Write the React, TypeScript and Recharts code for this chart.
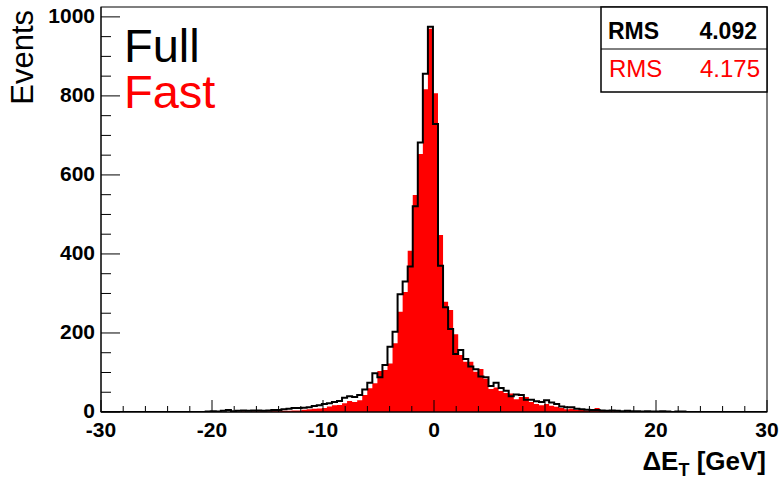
import React from 'react';
import { ComposedChart, Area, Line, XAxis, YAxis } from 'recharts';

// bin layout (GeV): peak bin starts at -0.55, bins ~0.455 wide
const PEAK_LEFT = -0.55;
const BIN_WIDTH = 0.455;
const FIRST_BIN = -44; // bin index of first entry, relative to peak bin

// Full simulation, counts per bin (bins -44 .. +50)
const FULL_COUNTS = [
  1, 2, 1, 3, 5, 2, 3, 4, 3, 4, 4, 3, 4, 5, 5, 7, 8, 10, 10, 11, 12, 15, 17, 20, 22, 25, 28,
  36, 40, 38, 43, 57, 74, 98, 88, 119, 165, 203, 298, 330, 368, 521, 682, 856,
  975,
  729, 370, 265, 210, 147, 157, 134, 115, 108, 90, 88, 66, 74, 61, 54, 40, 44, 43, 31, 31,
  27, 25, 30, 24, 20, 14, 12, 12, 8, 7, 6, 5, 5, 4, 3, 4, 3, 2, 3, 2, 2, 1, 2, 1, 1, 2, 1, 0, 1, 1,
];

// Fast simulation, same bins
const FAST_COUNTS = [
  0, 0, 0, 0, 0, 0, 0, 1, 0, 1, 1, 1, 1, 2, 2, 3, 3, 4, 4, 6, 7, 8, 9, 10, 14, 17, 18,
  22, 28, 25, 30, 43, 60, 73, 104, 106, 123, 174, 254, 304, 408, 549, 653, 817,
  970,
  807, 448, 279, 258, 197, 144, 127, 127, 102, 109, 84, 58, 62, 53, 48, 47, 32, 38, 38, 25,
  20, 17, 20, 16, 13, 10, 7, 8, 6, 5, 4, 7, 10, 3, 2, 2, 1, 1, 1, 1, 0, 1, 0, 0, 0, 0, 0, 0, 0, 0,
];

const X_MAJOR = [-30, -20, -10, 0, 10, 20, 30];
const Y_MAJOR = [0, 200, 400, 600, 800, 1000];
const X_TICKS: number[] = [];
for (let v = -30; v <= 30; v += 2) X_TICKS.push(v);
const Y_TICKS: number[] = [];
for (let v = 0; v <= 1000; v += 50) Y_TICKS.push(v);

const RMS_FULL = '4.092';
const RMS_FAST = '4.175';

const points: { x: number; full: number; fast: number }[] = [{ x: -30, full: 0, fast: 0 }];
FULL_COUNTS.forEach((v, k) => {
  points.push({ x: PEAK_LEFT + (FIRST_BIN + k) * BIN_WIDTH, full: v, fast: FAST_COUNTS[k] });
});
points.push({ x: PEAK_LEFT + (FIRST_BIN + FULL_COUNTS.length) * BIN_WIDTH, full: 0, fast: 0 });
points.push({ x: 30, full: 0, fast: 0 });

const FONT = '"Liberation Sans", Arial, Helvetica, sans-serif';

const XTick = (props: any) => {
  const { x, y, payload } = props;
  const major = X_MAJOR.includes(payload.value);
  return (
    <g>
      <line x1={x} x2={x} y1={y} y2={y - (major ? 12 : 6)} stroke="#000" strokeWidth={1} />
      {major && (
        <text x={x} y={y + 25} textAnchor="middle" fontFamily={FONT} fontWeight="bold" fontSize={21} fill="#000">
          {payload.value}
        </text>
      )}
    </g>
  );
};

const YTick = (props: any) => {
  const { x, y, payload } = props;
  const major = Y_MAJOR.includes(payload.value);
  return (
    <g>
      <line x1={x} x2={x + (major ? 19 : 10)} y1={y} y2={y} stroke="#000" strokeWidth={1} />
      {major && (
        <text x={x - 6} y={y + 6} textAnchor="end" fontFamily={FONT} fontWeight="bold" fontSize={21} fill="#000">
          {payload.value}
        </text>
      )}
    </g>
  );
};

export default function App() {
  return (
    <div style={{ position: 'absolute', left: 0, top: 0, width: 779, height: 482, background: '#fff' }}>
      <ComposedChart width={779} height={482} data={points} margin={{ top: 7, right: 12, left: 0, bottom: 0 }}>
        <XAxis
          type="number"
          dataKey="x"
          domain={[-30, 30]}
          ticks={X_TICKS}
          interval={0}
          height={70}
          tickSize={0}
          tickMargin={0}
          tick={XTick}
          axisLine={{ stroke: '#000', strokeWidth: 1 }}
          allowDataOverflow
        />
        <YAxis
          type="number"
          domain={[0, 1025]}
          ticks={Y_TICKS}
          interval={0}
          width={101}
          tickSize={0}
          tickMargin={0}
          tick={YTick}
          axisLine={{ stroke: '#000', strokeWidth: 1 }}
          allowDataOverflow
        />
        <Area
          dataKey="fast"
          type="stepAfter"
          fill="#ff0000"
          fillOpacity={1}
          stroke="none"
          isAnimationActive={false}
        />
        <Line
          dataKey="full"
          type="stepAfter"
          stroke="#000"
          strokeWidth={2}
          dot={false}
          isAnimationActive={false}
        />
      </ComposedChart>
      <svg width={779} height={482} style={{ position: 'absolute', left: 0, top: 0, pointerEvents: 'none' }}>
        <rect x={101} y={7} width={666} height={405} fill="none" stroke="#000" strokeWidth={1} />
        <rect x={601} y={7} width={166} height={85} fill="#fff" stroke="#000" strokeWidth={1.5} />
        <line x1={601} x2={767} y1={49} y2={49} stroke="#000" strokeWidth={1} />
        <text x={608} y={39} fontFamily={FONT} fontWeight="bold" fontSize={23} fill="#000">RMS</text>
        <text x={757} y={39} textAnchor="end" fontFamily={FONT} fontWeight="bold" fontSize={23} fill="#000">{RMS_FULL}</text>
        <text x={609} y={77} fontFamily={FONT} fontSize={24} fill="#ff0000">RMS</text>
        <text x={760} y={77} textAnchor="end" fontFamily={FONT} fontSize={24} fill="#ff0000">{RMS_FAST}</text>
        <text x={124} y={62} fontFamily={FONT} fontSize={47} fill="#000">Full</text>
        <text x={124} y={108} fontFamily={FONT} fontSize={47} fill="#ff0000">Fast</text>
        <text
          x={33}
          y={10}
          transform="rotate(-90 33 10)"
          textAnchor="end"
          fontFamily={FONT}
          fontSize={31}
          fill="#000"
        >
          Events
        </text>
        <text x={766} y={470} textAnchor="end" fontFamily={FONT} fontWeight="bold" fontSize={26} fill="#000">
          ΔE<tspan dy={6} fontSize={18}>T</tspan>
          <tspan dy={-6}> [GeV]</tspan>
        </text>
      </svg>
    </div>
  );
}
